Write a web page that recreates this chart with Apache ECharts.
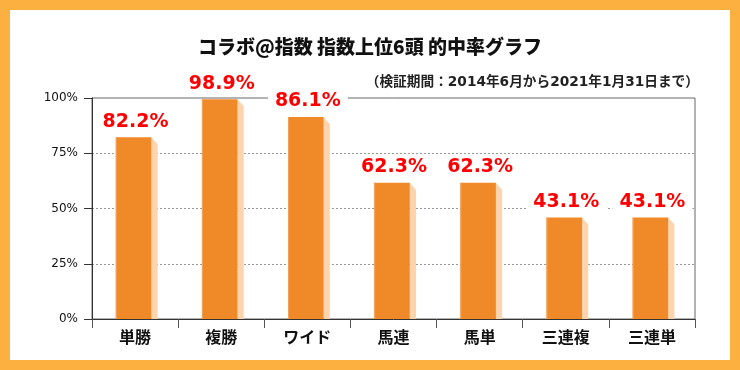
<!DOCTYPE html>
<html>
<head>
<meta charset="utf-8">
<script src="https://cdn.jsdelivr.net/npm/echarts@6/dist/echarts.min.js"></script>
<style>
html,body{margin:0;padding:0;background:#FBB040;}
#chart{width:740px;height:370px;}
</style>
</head>
<body>
<div id="chart"></div>
<script>
const titleText = 'コラボ@指数 指数上位6頭 的中率グラフ';
const subtitleText = '（検証期間：2014年6月から2021年1月31日まで）';
const categories = ['単勝', '複勝', 'ワイド', '馬連', '馬単', '三連複', '三連単'];
const labelRates = [82.2, 98.9, 86.1, 62.3, 62.3, 43.1, 43.1];
const barHeights = [82.2, 99.4, 91.4, 61.6, 61.6, 45.9, 45.9];
const yMin = 0, yMax = 100, yInterval = 25;

const chart = echarts.init(document.getElementById('chart'), null, {renderer: 'canvas'});
const data = categories.map((c, i) => [i, barHeights[i], labelRates[i]]);

chart.setOption({
  backgroundColor: '#FBB040',
  animation: false,
  graphic: [{
    type: 'rect', z: -10, silent: true,
    shape: {x: 10, y: 10, width: 720, height: 350},
    style: {fill: '#ffffff'}
  }],
  title: [{
    text: titleText, left: 'center', top: 37, padding: 0,
    textStyle: {fontSize: 19, fontWeight: 900, color: '#111', fontFamily: "'Noto Sans CJK JP', sans-serif"}
  }, {
    text: subtitleText, right: 41, top: 76, padding: 0,
    textStyle: {fontSize: 13.7, fontWeight: 'bold', color: '#222', fontFamily: "'DejaVu Sans', 'Noto Sans CJK JP', sans-serif"}
  }],
  grid: {
    left: 92, right: 45, top: 98, bottom: 51,
    show: true, borderColor: '#666', borderWidth: 1, backgroundColor: 'transparent'
  },
  xAxis: {
    type: 'category', data: categories, boundaryGap: true,
    axisLine: {lineStyle: {color: '#333', width: 1}},
    axisTick: {show: true, length: 9, alignWithLabel: false, lineStyle: {color: '#555'}},
    axisLabel: {margin: 10, fontSize: 16, fontWeight: 'bold', color: '#111', fontFamily: "'Noto Sans CJK JP', sans-serif"}
  },
  yAxis: {
    type: 'value', min: yMin, max: yMax, interval: yInterval,
    axisLine: {show: true, lineStyle: {color: '#333', width: 1}},
    axisTick: {show: true, length: 8, lineStyle: {color: '#333'}},
    axisLabel: {margin: 14, fontSize: 12, color: '#111', formatter: '{value}%', fontFamily: "'DejaVu Sans', sans-serif"},
    splitLine: {show: true, showMinLine: false, showMaxLine: false, lineStyle: {color: '#999', type: [2, 2], width: 1}}
  },
  series: [{
    type: 'custom',
    data: data,
    encode: {x: 0, y: 1},
    renderItem: function (params, api) {
      const idx = api.value(0);
      const top = api.coord([idx, api.value(1)]);
      const base = api.coord([idx, 0]);
      const band = api.size([1, 0])[0];
      const cx = top[0];
      const fl = cx - band * 0.224;
      const fw = band * 0.413;
      const fr = fl + fw;
      const sw = 6.2;
      const rate = api.value(2);
      return {
        type: 'group',
        children: [{
          type: 'polygon',
          shape: {points: [[fr, top[1]], [fr + sw, top[1] + 7], [fr + sw, base[1]], [fr, base[1]]]},
          style: {fill: '#FDD4AE'}
        }, {
          type: 'rect',
          shape: {x: fl, y: top[1], width: fw, height: base[1] - top[1]},
          style: {fill: '#F08A28'}
        }, {
          type: 'rect',
          shape: {x: fl, y: top[1], width: 1, height: base[1] - top[1]},
          style: {fill: '#F5A35A'}
        }, {
          type: 'text',
          style: {
            text: rate.toFixed(1) + '%',
            x: cx + 0.5, y: top[1] - 15.5,
            align: 'center', verticalAlign: 'middle',
            fill: '#FF0000',
            font: "bold 19px 'DejaVu Sans', sans-serif",
            backgroundColor: '#ffffff',
            padding: [2, 7]
          }
        }]
      };
    }
  }]
});
</script>
</body>
</html>
